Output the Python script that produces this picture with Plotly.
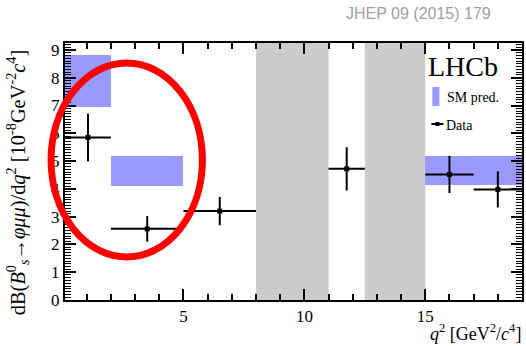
import plotly.graph_objects as go

# ---- data ----
bin_lo = [0.1, 2.0, 5.0, 11.0, 15.0, 17.0]
bin_hi = [2.0, 5.0, 8.0, 12.5, 17.0, 19.0]
data_x = [1.05, 3.5, 6.5, 11.75, 16.0, 18.0]
data_y = [5.85, 2.56, 3.20, 4.72, 4.52, 3.98]
data_err = [0.86, 0.46, 0.51, 0.78, 0.67, 0.65]

sm_lo_edge = [0.1, 2.0, 15.0]
sm_hi_edge = [2.0, 5.0, 19.0]
sm_low = [6.94, 4.11, 4.14]
sm_high = [8.82, 5.17, 5.17]

veto_lo = [8.0, 12.5]
veto_hi = [11.0, 15.0]

x_range = [0.1, 19.0]
y_range = [0.0, 9.25]

SERIF = "Liberation Serif"

fig = go.Figure()

# SM prediction boxes as bars
fig.add_trace(go.Bar(
    x=[(a + b) / 2 for a, b in zip(sm_lo_edge, sm_hi_edge)],
    width=[b - a for a, b in zip(sm_lo_edge, sm_hi_edge)],
    base=sm_low,
    y=[h - l for h, l in zip(sm_high, sm_low)],
    marker=dict(color="#9999ff", line=dict(width=0)),
    showlegend=False, hoverinfo="skip",
))

# data points
fig.add_trace(go.Scatter(
    x=data_x, y=data_y, mode="markers",
    marker=dict(color="black", size=5, symbol="square"),
    error_y=dict(type="data", array=data_err, color="black", thickness=2, width=0),
    error_x=dict(type="data",
                 array=[h - x for h, x in zip(bin_hi, data_x)],
                 arrayminus=[x - l for l, x in zip(bin_lo, data_x)],
                 color="black", thickness=2, width=0),
    showlegend=False, hoverinfo="skip",
))

# invisible trace to activate the mirrored tick axes (top / right)
fig.add_trace(go.Scatter(x=[x_range[0]], y=[y_range[0]], xaxis="x2", yaxis="y2",
                         mode="markers", marker=dict(opacity=0),
                         showlegend=False, hoverinfo="skip"))

# vetoed regions
for a, b in zip(veto_lo, veto_hi):
    fig.add_shape(type="rect", xref="x", yref="paper", x0=a, x1=b, y0=0, y1=1,
                  fillcolor="#cccccc", line=dict(width=0), layer="below")

# geometry helpers (pixel -> paper)
L, R, T, B = 65, 524, 43, 300
def px(x):
    return (x - L) / (R - L)
def py(y):
    return (B - y) / (B - T)

# red ellipse overlay
fig.add_shape(type="circle", xref="paper", yref="paper",
              x0=px(51), x1=px(203), y0=py(257), y1=py(63),
              line=dict(color="#ff0000", width=7))

# legend
fig.add_shape(type="rect", xref="paper", yref="paper",
              x0=px(434), x1=px(441), y0=py(106), y1=py(87),
              fillcolor="#9999ff", line=dict(width=0))
fig.add_shape(type="line", xref="paper", yref="paper",
              x0=px(433), x1=px(445), y0=py(124), y1=py(124),
              line=dict(color="black", width=2))
fig.add_shape(type="rect", xref="paper", yref="paper",
              x0=px(437), x1=px(441), y0=py(126), y1=py(122),
              fillcolor="black", line=dict(width=0))

annos = [
    dict(text="LHCb", x=px(428), y=py(66), xanchor="left", yanchor="middle",
         font=dict(family=SERIF, size=28, color="black")),
    dict(text="SM pred.", x=px(447), y=py(97), xanchor="left", yanchor="middle",
         font=dict(family=SERIF, size=14, color="black")),
    dict(text="Data", x=px(446), y=py(125), xanchor="left", yanchor="middle",
         font=dict(family=SERIF, size=14, color="black")),
    dict(text="JHEP 09 (2015) 179", x=px(495), y=py(14), xanchor="right", yanchor="middle",
         font=dict(family="Liberation Sans", size=16, color="#a0a0a0")),
    dict(text="<i>q</i><sup>2</sup> [GeV<sup>2</sup>/<i>c</i><sup>4</sup>]",
         x=px(525), y=py(332), xanchor="right", yanchor="middle",
         font=dict(family=SERIF, size=18, color="black")),
    dict(text="dB(<i>B</i><sup>0</sup><sub><i>s</i></sub>→<i>φμμ</i>)/d<i>q</i><sup>2</sup> [10<sup>-8</sup>GeV<sup>-2</sup><i>c</i><sup>4</sup>]",
         x=px(17), y=py(182), xanchor="center", yanchor="middle", textangle=-90,
         font=dict(family=SERIF, size=20.4, color="black")),
]
for a in annos:
    a.update(xref="paper", yref="paper", showarrow=False)
    fig.add_annotation(**a)

tick_common = dict(
    showgrid=False, zeroline=False, ticks="inside", tickcolor="black", tickwidth=1.5,
    tickfont=dict(family=SERIF, size=17, color="black"),
)
xticks = dict(range=x_range, tick0=0, dtick=5, ticklen=11,
              minor=dict(dtick=1, tick0=0, ticklen=6, ticks="inside",
                         tickcolor="black", tickwidth=1.5))
yticks = dict(range=y_range, tick0=0, dtick=1, ticklen=11,
              minor=dict(dtick=0.1, tick0=0, ticklen=6, ticks="inside",
                         tickcolor="black", tickwidth=1.2))

fig.update_layout(
    xaxis=dict(showline=True, linecolor="black", linewidth=2, mirror=True,
               ticklabelstandoff=0, **xticks, **tick_common),
    yaxis=dict(showline=True, linecolor="black", linewidth=2, mirror=True,
               **yticks, **tick_common),
    xaxis2=dict(overlaying="x", side="top", anchor="y", showticklabels=False,
                showline=False, **xticks, **tick_common),
    yaxis2=dict(overlaying="y", side="right", anchor="x", showticklabels=False,
                showline=False, **yticks, **tick_common),
    width=526, height=346,
    margin=dict(l=L, r=526 - R, t=T, b=346 - B),
    paper_bgcolor="white", plot_bgcolor="white",
    bargap=0, showlegend=False,
)

fig.write_html("out.html")
